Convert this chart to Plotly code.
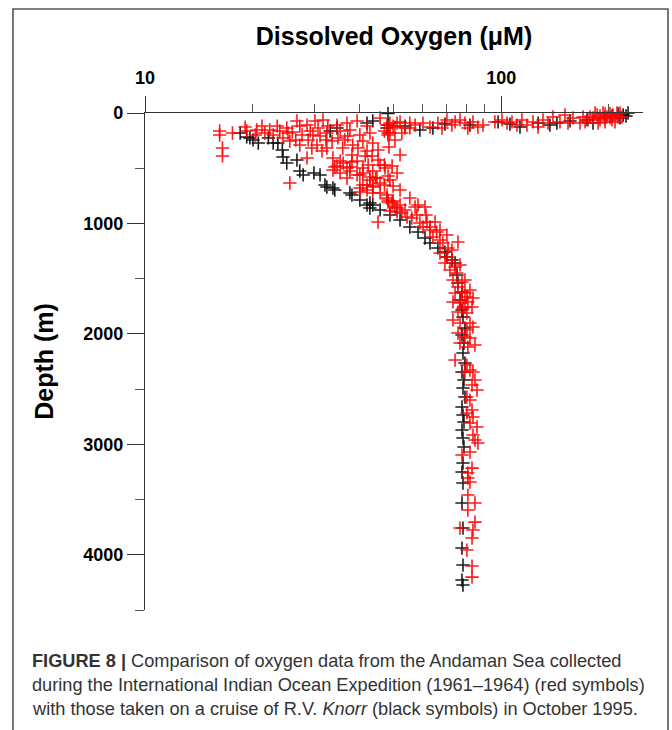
import plotly.graph_objects as go

# IIOE 1961-1964 (red symbols): dissolved oxygen (uM) and depth (m)
iioe_oxygen = [
    47.8, 48.7, 48.1, 50.3, 52.0, 53.7, 55.4, 57.3, 60.3, 63.1, 66.4, 68.2, 70.4, 72.7,
    74.2, 76.6, 79.1, 80.6, 83.3, 86.0, 88.9, 96.0, 100.5, 103.8, 107.2, 110.7, 114.3,
    118.1, 122.8, 126.9, 131.0, 135.3, 139.7, 146.2, 151.0, 154.0, 159.0, 166.4, 169.7,
    175.2, 185.8, 189.4, 193.1, 198.1, 202.0, 205.9, 208.7, 212.8, 215.5, 202.0, 195.6,
    187.0, 181.0, 183.4, 189.4, 195.6, 204.6, 211.4, 218.4, 171.9, 177.5,
    16.2, 16.2, 16.5, 16.5, 17.6, 19.3, 20.4, 20.6, 21.7, 22.4, 22.9, 23.5, 23.9, 24.4,
    25.0, 25.2, 25.5, 26.7, 27.2, 27.6, 27.2, 28.5, 29.1, 28.7, 29.4, 28.5, 30.0, 30.6,
    31.0, 30.4, 31.4, 31.6, 32.6, 32.4, 33.5, 32.4, 33.7, 34.6, 35.3, 34.8, 35.9, 35.3,
    34.6, 36.9, 37.6, 37.1, 38.3, 38.1, 39.4, 37.6, 39.4, 40.1, 40.9, 42.0, 40.9, 40.1,
    42.0, 42.8, 43.6, 43.4, 42.3, 43.6, 42.8, 45.7, 47.0, 48.1, 45.7, 47.2, 44.8, 48.1,
    47.0, 49.7, 51.0, 52.0, 49.4, 51.0, 49.7, 25.5, 40.9, 42.0, 43.6, 43.6, 40.1, 47.8,
    48.1, 49.7, 51.0, 48.7, 47.0, 48.7,
    19.1, 21.3, 25.9, 26.5, 29.6, 32.2, 36.4, 39.6, 41.5, 45.1, 48.4, 50.3, 52.6, 55.4,
    45.1, 38.1, 33.7, 36.9, 48.7, 52.0, 55.4, 58.4, 61.5, 65.2, 67.3, 72.7, 76.6, 79.1,
    81.7, 79.1,
    34.1, 36.0, 37.6, 35.3, 36.9, 39.4, 40.9, 42.8, 44.4, 42.0, 43.6, 45.7, 40.1, 45.1,
    45.7, 47.8, 48.1, 49.4, 50.3, 52.0, 51.0, 52.6, 53.7, 54.4, 56.1, 57.9, 57.3, 61.1,
    59.1, 61.9, 63.1, 60.3, 63.1, 65.9, 64.3, 67.3, 70.4, 68.6, 70.9, 75.6, 67.3, 70.4,
    69.5, 72.7, 74.2, 71.8, 75.1, 73.2, 77.6, 75.6, 74.2, 77.6, 80.1, 76.6, 83.3, 79.1,
    75.6, 80.1,
    73.2, 76.6, 80.6, 78.1, 82.8, 73.2, 76.6, 81.7, 80.1, 83.3, 75.6, 79.1, 81.7, 76.6,
    84.4, 80.6, 74.2, 80.1, 81.7, 83.3, 79.1, 84.4, 82.8, 85.5, 81.7, 80.1, 82.8, 80.1,
    83.3, 81.7, 85.5, 83.3, 86.0, 84.4,
    81.7, 77.6, 82.8, 80.6, 80.6, 81.7, 80.6, 84.4, 80.6, 84.4, 76.6, 83.3, 82.8, 80.1,
    82.8, 82.8,
]
iioe_depth = [
    109, 91, 181, 127, 81, 136, 91, 109, 91, 127, 91, 136, 63, 109,
    81, 63, 91, 136, 81, 127, 109, 81, 63, 91, 81, 109, 63,
    109, 81, 127, 63, 91, 36, 81, 18, 91, 45, 91, 36,
    63, 18, 63, 0, 36, 45, 18, 81, 36, 0, 5, 81,
    91, 45, 0, 27, 9, 63, 0, 36, 81, 36,
    163, 199, 317, 389, 181, 163, 199, 154, 181, 154, 199, 118, 163, 226,
    136, 181, 254, 72, 118, 199, 290, 109, 163, 244, 317, 407, 72, 136,
    208, 290, 344, 63, 118, 181, 254, 317, 407, 109, 163, 226, 317, 435,
    480, 91, 154, 208, 290, 380, 435, 525, 72, 199, 254, 344, 498, 561,
    118, 181, 272, 389, 471, 525, 607, 45, 163, 199, 471, 498, 589, 570,
    652, 118, 91, 380, 480, 543, 661, 634, 652, 697, 661, 724, 679, 743,
    788, 797, 860, 887, 471, 181,
    127, 118, 172, 244, 199, 244, 244, 317, 389, 335, 308, 244, 181, 136,
    426, 444, 516, 498, 607, 697, 770, 833, 924, 987, 1059, 1241, 1376, 1512,
    1603, 1630,
    489, 453, 489, 543, 589, 561, 543, 580, 589, 652, 670, 634, 715, 987,
    724, 770, 806, 815, 851, 833, 896, 906, 878, 942, 951, 924, 851, 851,
    996, 987, 1032, 1032, 1059, 1078, 1123, 1150, 1105, 1177, 1222, 1168, 1268, 1304,
    1358, 1331, 1394, 1422, 1449, 1512, 1530, 1576, 1630, 1621, 1666, 1693, 1675, 1757,
    1802, 1811,
    1711, 1720, 1711, 1766, 1757, 1874, 1902, 1902, 1965, 1938, 1992, 2028, 2037, 2083,
    2101, 2119, 2237, 2282, 2327, 2345, 2345, 2418, 2463, 2508, 2599, 2572, 2689, 2716,
    2753, 2807, 2843, 2916, 2988, 2961,
    3070, 3097, 3215, 3260, 3305, 3341, 3459, 3531, 3595, 3704, 3758, 3776, 3848, 3957,
    4102, 4202,
]

# R.V. Knorr, October 1995 (black symbols)
knorr_oxygen = [
    48.1, 47.8, 48.1, 59.1, 64.3, 81.7, 98.0, 112.9, 137.0, 143.3, 174.1, 181.0, 195.6,
    204.6, 212.8, 220.0, 224.0, 227.0, 215.5, 33.1, 34.6, 42.0, 43.6, 53.7, 69.5, 105.8,
    127.0, 156.0,
    18.5, 19.3, 19.7, 20.1, 20.8, 22.2, 22.9, 23.6, 24.3, 24.4, 25.0, 26.7, 27.2, 27.8,
    29.8, 31.0, 32.0, 32.4, 33.7, 34.1, 37.6, 38.1, 40.1, 42.0, 42.8, 43.6, 42.8, 48.7,
    55.4, 61.1, 63.1, 66.4, 70.4, 74.2, 75.1, 75.6, 77.6, 76.6, 77.6, 45.7, 52.0, 58.4,
    69.5, 72.7,
    78.1, 79.1, 77.6, 78.6, 78.1, 79.1, 77.6, 78.6, 78.1, 79.1, 77.6, 78.1, 78.6, 77.6,
    78.1, 78.6, 78.1, 77.6, 78.1, 77.6, 78.1, 77.6, 78.1, 77.6, 78.1,
]
knorr_depth = [
    5, 136, 109, 154, 136, 109, 81, 127, 109, 91, 63, 91, 45,
    27, 9, 18, 27, 0, 45, 163, 136, 91, 72, 118, 100, 100,
    91, 72,
    181, 217, 226, 244, 272, 226, 272, 272, 335, 398, 453, 426, 525, 561,
    543, 561, 652, 670, 679, 697, 724, 743, 788, 833, 815, 833, 860, 924,
    1032, 1132, 1177, 1222, 1304, 1358, 1467, 1539, 1621, 1693, 1784, 878, 969, 1078,
    1259, 1331,
    1847, 1947, 2010, 2083, 2173, 2264, 2345, 2418, 2490, 2572, 2662, 2735, 2798, 2870,
    2943, 3024, 3169, 3251, 3350, 3531, 3758, 3939, 4093, 4229, 4274,
]

x_major = [10, 100]
x_minor = [20, 30, 40, 50, 60, 70, 80, 90, 200]
y_major = [0, 1000, 2000, 3000, 4000]
y_minor = [500, 1500, 2500, 3500, 4500]

caption_lines = [
    "<b>FIGURE 8 |</b> Comparison of oxygen data from the Andaman Sea collected",
    "during the International Indian Ocean Expedition (1961–1964) (red symbols)",
    "with those taken on a cruise of R.V. <i>Knorr</i> (black symbols) in October 1995.",
]

FONT = "Liberation Sans, Arial, sans-serif"
BLACK = "rgba(10,10,10,0.92)"
RED = "rgba(255,0,0,0.9)"

fig = go.Figure()
fig.add_trace(go.Scatter(
    x=knorr_oxygen, y=knorr_depth, mode="markers", name="Knorr 1995",
    marker=dict(symbol="cross-thin-open", size=9.5, color=BLACK,
                line=dict(color=BLACK, width=1.6)),
    cliponaxis=False, showlegend=False,
))
fig.add_trace(go.Scatter(
    x=iioe_oxygen, y=iioe_depth, mode="markers", name="IIOE",
    marker=dict(symbol="cross-thin-open", size=9.5, color=RED,
                line=dict(color=RED, width=1.6)),
    cliponaxis=False, showlegend=False,
))

# plot area in pixels
L, R, T, B = 145, 643, 113, 610
W, H = 672, 730

def px_x(p):
    return (p - L) / (R - L)

def px_y(p):
    return (B - p) / (B - T)

fig.update_layout(
    width=W, height=H,
    margin=dict(l=L, r=W - R, t=T, b=H - B),
    paper_bgcolor="white", plot_bgcolor="white",
    font=dict(family=FONT, color="black"),
    xaxis=dict(
        type="log", range=[1, 2.398], side="top",
        showline=True, linecolor="#333", linewidth=1.3,
        showgrid=False, zeroline=False,
        tickmode="array", tickvals=x_major, ticktext=[str(v) for v in x_major],
        ticks="outside", ticklen=16, tickwidth=1.3, tickcolor="#333",
        ticklabelstandoff=5,
        tickfont=dict(size=18, family=FONT, weight="bold"),
        minor=dict(tickmode="array", tickvals=x_minor, ticks="outside",
                   ticklen=8, tickwidth=1.2, tickcolor="#555"),
        title=dict(text="Dissolved Oxygen (μM)", standoff=14,
                   font=dict(size=25, family=FONT, weight="bold")),
    ),
    yaxis=dict(
        range=[4500, 0],
        showline=True, linecolor="#333", linewidth=1.3,
        showgrid=False, zeroline=False,
        tickmode="array", tickvals=y_major, ticktext=[str(v) for v in y_major],
        ticks="outside", ticklen=17, tickwidth=1.3, tickcolor="#333",
        tickfont=dict(size=18, family=FONT, weight="bold"),
        minor=dict(tickmode="array", tickvals=y_minor, ticks="outside",
                   ticklen=9, tickwidth=1.2, tickcolor="#555"),
        title=dict(text="Depth (m)", standoff=22,
                   font=dict(size=25, family=FONT, weight="bold")),
    ),
)

# figure frame
fig.add_shape(type="rect", xref="paper", yref="paper",
              x0=px_x(13), x1=px_x(668), y0=px_y(745), y1=px_y(9),
              line=dict(color="#555", width=1.6), fillcolor="rgba(0,0,0,0)",
              layer="above")

for i, line in enumerate(caption_lines):
    fig.add_annotation(
        text=line, xref="paper", yref="paper",
        x=px_x(30), y=px_y(661 + 24 * i), xanchor="left", yanchor="middle",
        showarrow=False, align="left",
        font=dict(size=18.2, family=FONT, color="#333"),
    )

fig.write_html("out.html")
